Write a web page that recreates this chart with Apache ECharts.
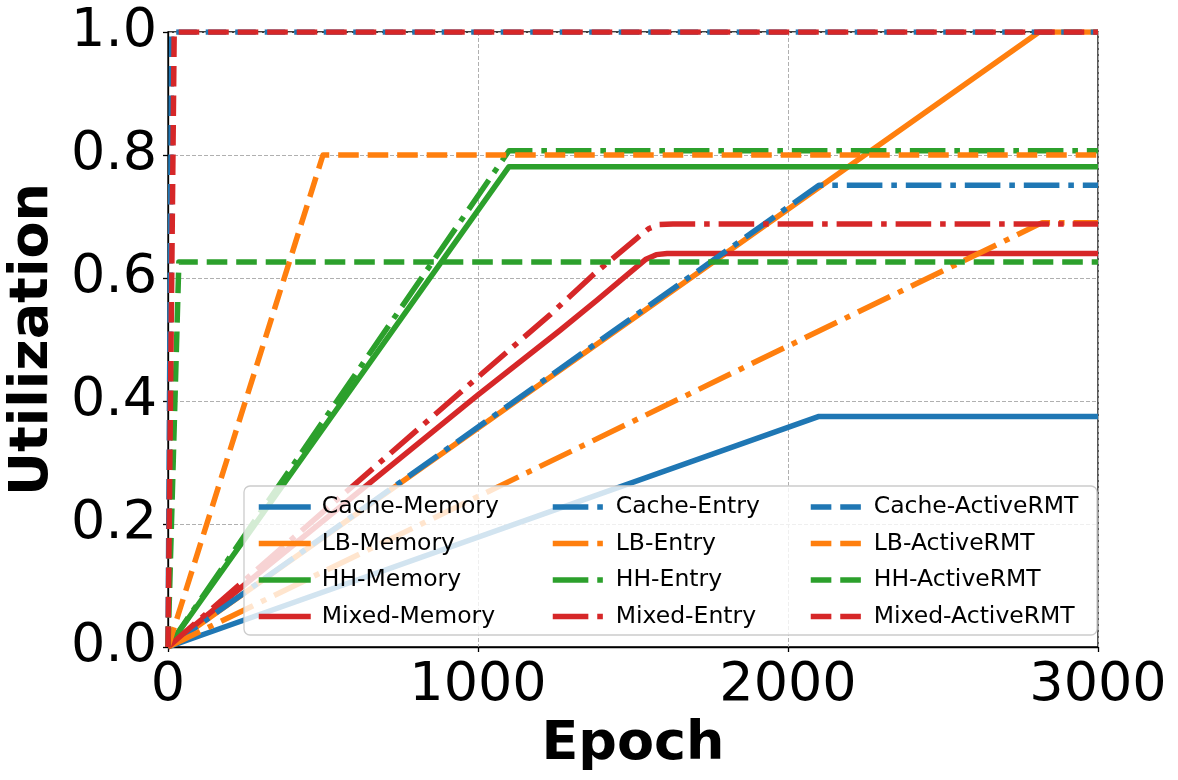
<!DOCTYPE html>
<html>
<head>
<meta charset="utf-8">
<script src="https://cdn.jsdelivr.net/npm/echarts@6/dist/echarts.min.js"></script>
<style>
  html, body { margin: 0; padding: 0; background: #fff; }
  #chart { width: 1178px; height: 780px; }
</style>
</head>
<body>
<div id="chart"></div>
<script>
// [epoch, utilization] points
const cacheMemory = [[0, 0], [2100, 0.375], [3000, 0.375]]
const lbMemory = [[0, 0], [2810, 1.0], [3000, 1.0]]
const hhMemory = [[0, 0], [1100, 0.781], [3000, 0.781]]
const mixedMemory = [[0, 0], [1000, 0.410], [1265, 0.515], [1384, 0.564], [1481, 0.605],
  [1540, 0.630], [1575, 0.638], [1610, 0.640], [3000, 0.640]]

const cacheEntry = [[0, 0], [2100, 0.751], [3000, 0.751]]
const lbEntry = [[0, 0], [2820, 0.690], [3000, 0.690]]
const hhEntry = [[0, 0], [1100, 0.807], [3000, 0.807]]
const mixedEntry = [[0, 0], [1000, 0.439], [1232, 0.540], [1371, 0.605],
  [1513, 0.665], [1550, 0.680], [1585, 0.687], [1629, 0.688], [3000, 0.688]]

const cacheActive = [[0, 0], [12, 1.0], [3000, 1.0]]
const lbActive = [[0, 0], [500, 0.8], [3000, 0.8]]
const hhActive = [[0, 0], [35, 0.626], [3000, 0.626]]
const mixedActive = [[0, 0], [20, 1.0], [3000, 1.0]]

const xTicks = [0, 1000, 2000, 3000]
const yTicks = [0, 0.2, 0.4, 0.6, 0.8, 1.0]

const colors = { Cache: '#1f77b4', LB: '#ff7f0e', HH: '#2ca02c', Mixed: '#d62728' }
const dashes = {
  Memory: 'solid',
  Entry: [35.6, 8.9, 5.6, 8.9],
  ActiveRMT: [20.6, 8.9]
}

const seriesDefs = [
  ['Cache', 'Memory', cacheMemory], ['LB', 'Memory', lbMemory],
  ['HH', 'Memory', hhMemory], ['Mixed', 'Memory', mixedMemory],
  ['Cache', 'Entry', cacheEntry], ['LB', 'Entry', lbEntry],
  ['HH', 'Entry', hhEntry], ['Mixed', 'Entry', mixedEntry],
  ['Cache', 'ActiveRMT', cacheActive], ['LB', 'ActiveRMT', lbActive],
  ['HH', 'ActiveRMT', hhActive], ['Mixed', 'ActiveRMT', mixedActive]
]

const font = 'DejaVu Sans'
const chart = echarts.init(document.getElementById('chart'))

const series = seriesDefs.map(([w, kind, data], i) => ({
  name: w + '-' + kind,
  type: 'line',
  data: data,
  symbol: 'none',
  silent: true,
  animation: false,
  z: 2 + i * 0.01,
  lineStyle: { color: colors[w], width: 5.5, type: dashes[kind], cap: 'butt', join: 'round' },
  itemStyle: { color: colors[w] }
}))

function makeLegend(kind, left) {
  return {
    orient: 'vertical',
    left: left,
    top: 490,
    z: 10,
    itemWidth: 52,
    itemHeight: 14,
    itemGap: 12.5,
    selectedMode: false,
    itemStyle: { opacity: 0 },
    lineStyle: { width: 5.5, type: dashes[kind], cap: 'butt' },
    data: ['Cache', 'LB', 'HH', 'Mixed'].map(w => w + '-' + kind),
    textStyle: { fontFamily: font, fontSize: 23.5, color: '#000', padding: [0, 0, 0, 6] }
  }
}

chart.setOption({
  animation: false,
  color: Object.values(colors),
  grid: {
    left: 168, right: 80, top: 32, bottom: 133,
    outerBoundsMode: 'none', containLabel: false,
    show: true, borderColor: '#000', borderWidth: 1.3, backgroundColor: 'transparent'
  },
  legend: [makeLegend('Memory', 251), makeLegend('Entry', 545), makeLegend('ActiveRMT', 803)],
  graphic: [{
    type: 'rect',
    z: 5,
    silent: true,
    shape: { x: 244, y: 486, width: 853, height: 149, r: 6 },
    style: { fill: 'rgba(255,255,255,0.8)', stroke: '#cccccc', lineWidth: 1.3 }
  }],
  xAxis: {
    type: 'value',
    min: 0, max: 3000, interval: 1000,
    name: 'Epoch',
    nameLocation: 'middle',
    nameGap: 71,
    nameTextStyle: { fontFamily: font, fontSize: 54, fontWeight: 'bold', color: '#000' },
    axisLine: { show: true, onZero: false, lineStyle: { color: '#000', width: 1.3 } },
    axisTick: { show: true, length: 5, inside: false, lineStyle: { color: '#000', width: 1.3 } },
    axisLabel: {
      margin: 12, fontFamily: font, fontSize: 54, color: '#000',
      formatter: v => xTicks.includes(v) ? String(v) : ''
    },
    splitLine: { show: true, lineStyle: { color: '#b0b0b0', width: 1, type: [4, 2] } }
  },
  yAxis: {
    type: 'value',
    min: 0, max: 1, interval: 0.2,
    name: 'Utilization',
    nameLocation: 'middle',
    nameGap: 86,
    nameTextStyle: { fontFamily: font, fontSize: 54, fontWeight: 'bold', color: '#000' },
    axisLine: { show: true, onZero: false, lineStyle: { color: '#000', width: 1.3 } },
    axisTick: { show: true, length: 5, inside: false, lineStyle: { color: '#000', width: 1.3 } },
    axisLabel: {
      margin: 11, fontFamily: font, fontSize: 54, color: '#000',
      formatter: v => yTicks.some(t => Math.abs(t - v) < 1e-9) ? v.toFixed(1) : ''
    },
    splitLine: { show: true, lineStyle: { color: '#b0b0b0', width: 1, type: [4, 2] } }
  },
  series: series
})
</script>
</body>
</html>
